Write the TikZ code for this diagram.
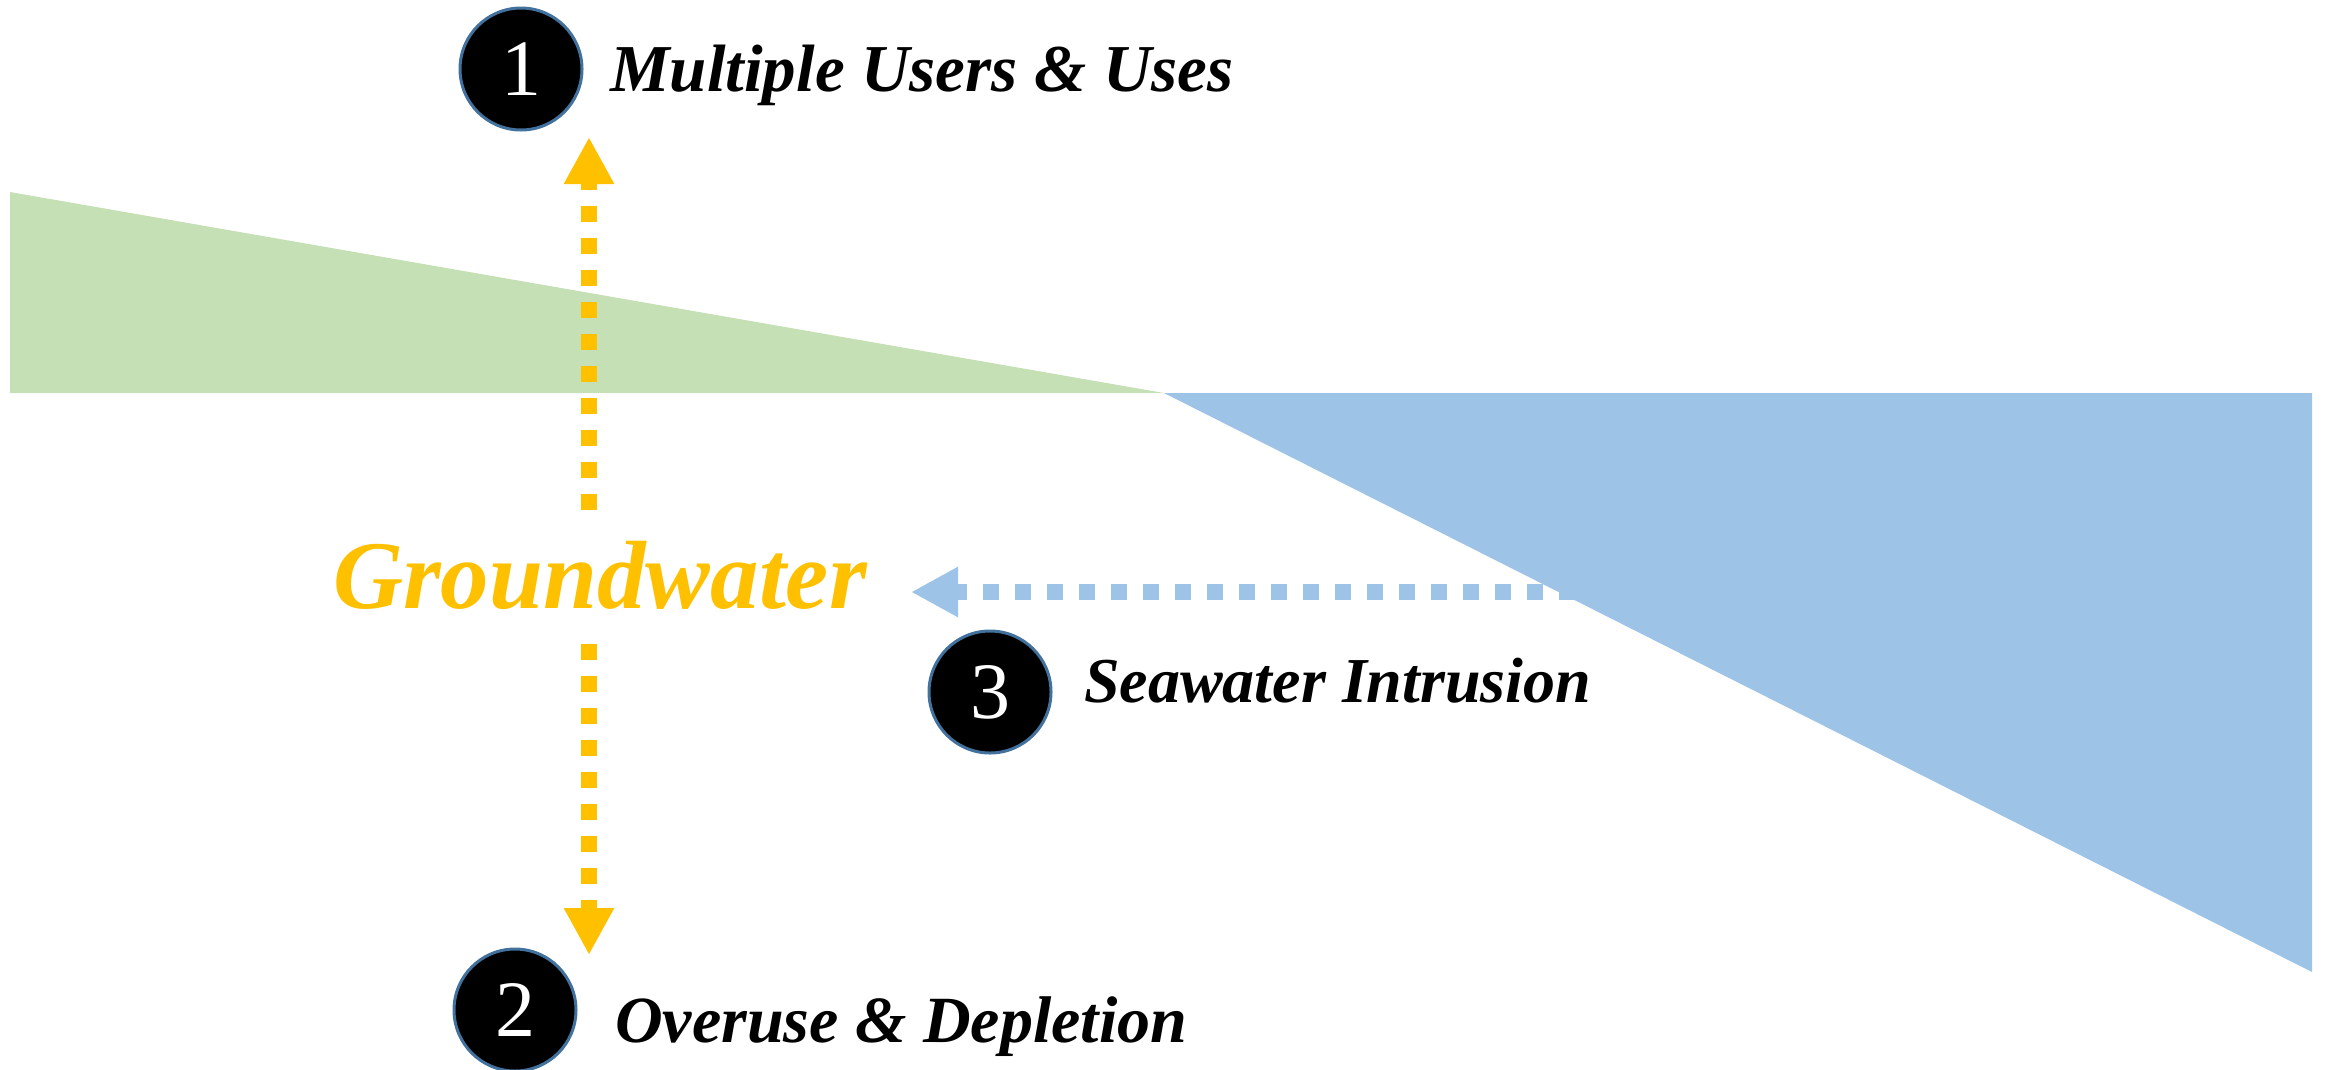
\documentclass[tikz,border=0pt]{standalone}
\usepackage{fontspec}
\setmainfont{Liberation Serif}
\usetikzlibrary{arrows.meta}
\definecolor{gold}{HTML}{FFC000}
\definecolor{seablue}{HTML}{9DC3E6}
\definecolor{landgreen}{HTML}{C5E0B4}
\definecolor{ringblue}{HTML}{41719C}

\begin{document}
\begin{tikzpicture}[x=1pt,y=-1pt,
  badge/.style={circle, fill=black, draw=ringblue, line width=3pt,
    minimum size=122pt, inner sep=0pt, text=white,
    font=\fontsize{80}{80}\selectfont},
  caption/.style={anchor=base west, inner sep=0pt,
    font=\fontsize{64}{70}\selectfont\bfseries\itshape},
  flow/.style={line width=16pt, dash pattern=on 16pt off 16pt,
    -{Triangle[length=47pt,width=47pt]}}
]
\useasboundingbox (0,0) rectangle (2326,1069);

% land wedge and sea wedge
\fill[landgreen] (10,192) -- (10,393) -- (1164,393) -- cycle;
\fill[seablue] (1164,393) -- (2312,393) -- (2312,972) -- cycle;

% central label
\node[caption, text=gold, font=\fontsize{97}{100}\selectfont\bfseries\itshape]
  (gw) at (333,608) {Groundwater};

% arrow end points
\coordinate (upTail) at (589,510);
\coordinate (upTip) at (589,137);
\coordinate (downTail) at (589,644);
\coordinate (downTip) at (589,955);
\coordinate (seaTail) at (1575,592);
\coordinate (seaTip) at (911,592);

\draw[flow, gold] (upTail) -- (upTip);
\draw[flow, gold] (downTail) -- (downTip);
\draw[flow, seablue] (seaTail) -- (seaTip);

% numbered badges
\node[badge] (b1) at (521,69) {\raisebox{-4pt}{1}};
\node[badge] (b2) at (515,1010) {\raisebox{-4pt}{2}};
\node[badge] (b3) at (990,692) {\raisebox{-4pt}{3}};

% captions
\node[caption, font=\fontsize{67}{70}\selectfont\bfseries\itshape] (t1) at (610,91) {Multiple Users \& Uses};
\node[caption, font=\fontsize{66}{70}\selectfont\bfseries\itshape] (t2) at (615,1042) {Overuse \& Depletion};
\node[caption] (t3) at (1084,702) {Seawater Intrusion};
\end{tikzpicture}
\end{document}
